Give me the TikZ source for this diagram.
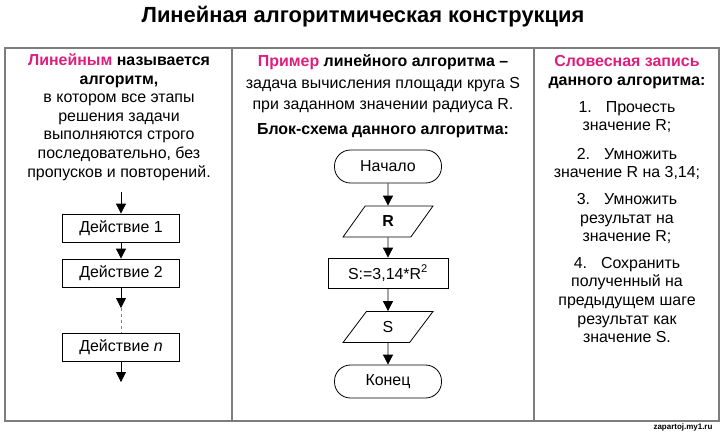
\documentclass[tikz,border=0pt]{standalone}
\usepackage{fontspec}
\setmainfont{Liberation Sans}
\usetikzlibrary{shapes.geometric,arrows.meta}
\definecolor{headpink}{RGB}{222,30,125}
\definecolor{framegray}{RGB}{125,125,125}
\tikzset{
	txt/.style={align=center,font=\fontsize{16}{18.7}\selectfont},
	actbox/.style={draw,line width=0.8bp,minimum width=117bp,minimum height=28bp,inner sep=0pt,font=\fontsize{16}{18}\selectfont},
	termbox/.style={draw,line width=0.8bp,rounded corners=16bp,minimum width=107bp,minimum height=33bp,inner sep=0pt,font=\fontsize{16}{18}\selectfont},
	iobox/.style={draw,line width=0.8bp,trapezium,trapezium left angle=63,trapezium right angle=117,trapezium stretches=true,minimum width=90bp,minimum height=31bp,inner sep=0pt,font=\fontsize{16}{18}\selectfont},
	flow/.style={line width=0.8bp,-{Triangle[length=10bp,width=10bp]}},
}
\begin{document}
\begin{tikzpicture}[x=1bp,y=-1bp]
	\useasboundingbox (0,0) rectangle (727,432);
	
	% title and frame
	\node[font=\bfseries\fontsize{22}{26}\selectfont] (title) at (363,17) {Линейная алгоритмическая конструкция};
	\draw[framegray,line width=2bp] (5,48) rectangle (719,421);
	\draw[framegray,line width=2bp] (232,48) -- (232,421);
	\draw[framegray,line width=2bp] (534,48) -- (534,421);
	
	% left column
	\node[txt] (defn) at (119,117) {\textcolor{headpink}{\textbf{Линейным}} \textbf{называется}\\ \textbf{алгоритм,}\\ в котором все этапы\\ решения задачи\\ выполняются строго\\ последовательно, без\\ пропусков и повторений.};
	\coordinate (start) at (121,192);
	\node[actbox] (act1) at (121,228) {Действие 1};
	\node[actbox] (act2) at (121,273) {Действие 2};
	\coordinate (gap) at (121,308);
	\node[actbox] (actn) at (121,347.5) {Действие \textit{n}};
	\coordinate (finish) at (121,382);
	\draw[flow] (start) -- (act1);
	\draw[flow] (act1) -- (act2);
	\draw[flow] (act2) -- (gap);
	\draw[dashed,gray,line width=0.8bp] (gap) -- (actn);
	\draw[flow] (actn) -- (finish);
	
	% middle column
	\node[txt,font=\fontsize{16}{21.5}\selectfont] (example) at (383,84) {\textcolor{headpink}{\textbf{Пример}} \textbf{линейного алгоритма –}\\ задача вычисления площади круга S\\ при заданном значении радиуса R.};
	\node[txt] (schema) at (383,131) {\textbf{Блок-схема данного алгоритма:}};
	\node[termbox] (begin) at (388,166.5) {Начало};
	\node[iobox] (inR) at (388,221.5) {\textbf{R}};
	\node[actbox,minimum width=120bp,minimum height=30bp] (calc) at (388,273) {S:=3,14*R\textsuperscript{2}};
	\node[iobox] (outS) at (388,327) {S};
	\node[termbox] (stop) at (388,381.5) {Конец};
	\draw[flow] (begin) -- (inR);
	\draw[flow] (inR) -- (calc);
	\draw[flow] (calc) -- (outS);
	\draw[flow] (outS) -- (stop);
	
	% right column
	\node[txt] (words) at (627,72) {\textcolor{headpink}{\textbf{Словесная запись}}\\ \textbf{данного алгоритма:}};
	\node[txt] (step1) at (627,117) {1.\hspace{14pt}Прочесть\\ значение R;};
	\node[txt] (step2) at (627,164) {2.\hspace{14pt}Умножить\\ значение R на 3,14;};
	\node[txt] (step3) at (627,218.5) {3.\hspace{14pt}Умножить\\ результат на\\ значение R;};
	\node[txt] (step4) at (627,300) {4.\hspace{14pt}Сохранить\\ полученный на\\ предыдущем шаге\\ результат как\\ значение S.};
	
	\node[font=\bfseries\fontsize{8}{9}\selectfont] (mark) at (683,427) {zapartoj.my1.ru};
\end{tikzpicture}
\end{document}
